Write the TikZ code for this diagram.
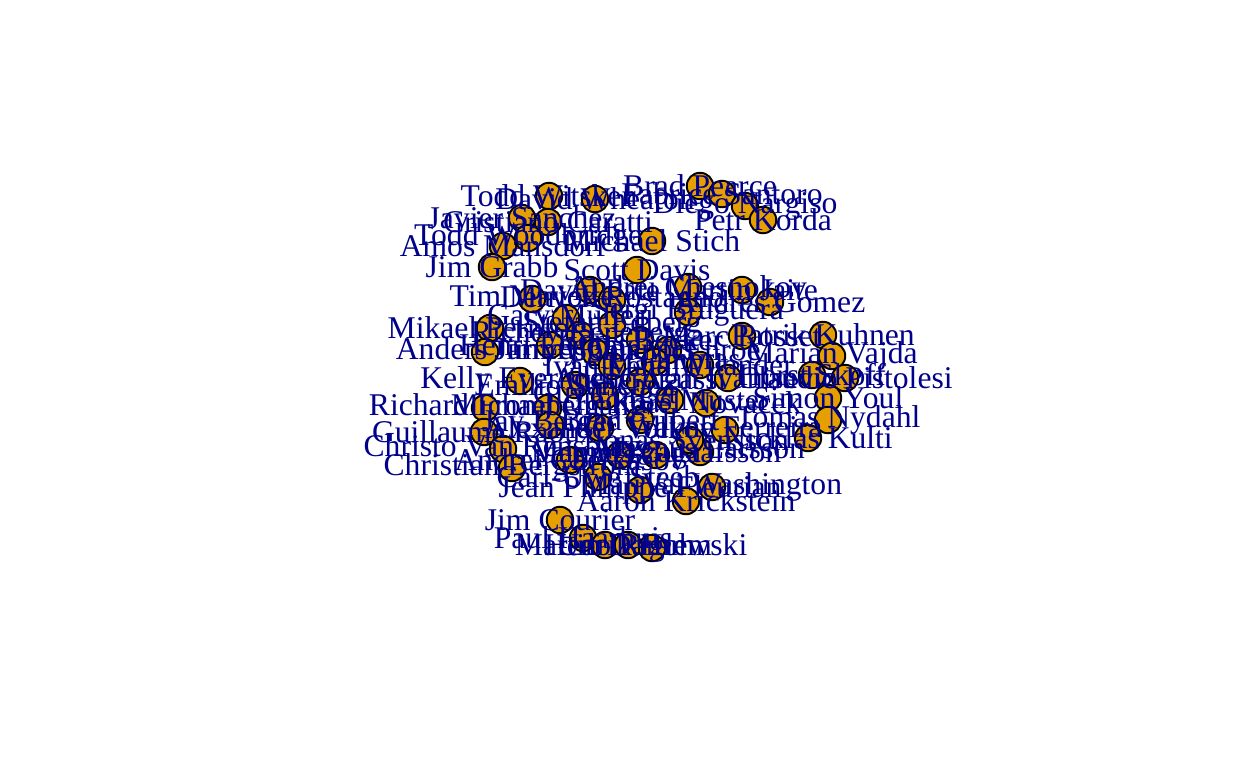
\documentclass[tikz,border=0pt]{standalone}
\usepackage{fontspec}
\setmainfont{Liberation Serif}
\usepackage{xcolor}
\usepackage{tikz}
\definecolor{vfill}{HTML}{E69F00}
\definecolor{lblblue}{HTML}{00008B}
\definecolor{edgegray}{HTML}{AFAFAF}
\pgfdeclarelayer{bg}
\pgfsetlayers{bg,main}

\begin{document}
\begin{tikzpicture}[
  x=0.02cm,y=-0.02cm,
  vtx/.style={circle,draw=black,line width=1.1pt,fill=vfill,minimum size=0.53cm,inner sep=0pt},
  lbl/.style={text=lblblue,font=\fontsize{18}{20}\selectfont,inner sep=0pt},
  edge/.style={draw=edgegray,line width=0.7pt}]
  \fill[white] (0,0) rectangle (1248,768);
  \useasboundingbox (0,0) rectangle (1248,768);

  % vertices
  \node[vtx] (pearce) at (700,186) {};
  \node[vtx] (santoro) at (722,194) {};
  \node[vtx] (nargiso) at (745,206) {};
  \node[vtx] (korda) at (763,220) {};
  \node[vtx] (stich) at (652,241) {};
  \node[vtx] (witsken) at (549,196) {};
  \node[vtx] (wheaton) at (595,199) {};
  \node[vtx] (javier) at (522,218) {};
  \node[vtx] (caratti) at (548,222) {};
  \node[vtx] (woodbridge) at (528,238) {};
  \node[vtx] (mansdorf) at (503,246) {};
  \node[vtx] (grabb) at (492,267) {};
  \node[vtx] (davis) at (637,270) {};
  \node[vtx] (mayotte) at (532,299) {};
  \node[vtx] (pate) at (590,290) {};
  \node[vtx] (rostagno) at (612,300) {};
  \node[vtx] (chesnokov) at (688,287) {};
  \node[vtx] (jaite) at (742,290) {};
  \node[vtx] (gomez) at (770,302) {};
  \node[vtx] (bruguera) at (688,312) {};
  \node[vtx] (muller) at (566,318) {};
  \node[vtx] (pernfors) at (490,328) {};
  \node[vtx] (reneberg) at (580,335) {};
  \node[vtx] (rosset) at (742,336) {};
  \node[vtx] (kuhnen) at (823,335) {};
  \node[vtx] (jarryd) at (485,352) {};
  \node[vtx] (vajda) at (832,356) {};
  \node[vtx] (skoff) at (812,375) {};
  \node[vtx] (pistolesi) at (845,378) {};
  \node[vtx] (evernden) at (520,381) {};
  \node[vtx] (youl) at (828,398) {};
  \node[vtx] (nydahl) at (828,420) {};
  \node[vtx] (kulti) at (808,438) {};
  \node[vtx] (fromberg) at (485,408) {};
  \node[vtx] (chang) at (548,408) {};
  \node[vtx] (raoux) at (484,432) {};
  \node[vtx] (vanrensburg) at (503,449) {};
  \node[vtx] (bergstrom) at (512,468) {};
  \node[vtx] (steeb) at (598,477) {};
  \node[vtx] (fleurian) at (640,490) {};
  \node[vtx] (washington) at (712,487) {};
  \node[vtx] (krickstein) at (686,501) {};
  \node[vtx] (courier) at (560,520) {};
  \node[vtx] (haarhuis) at (583,538) {};
  \node[vtx] (damm) at (605,545) {};
  \node[vtx] (holm) at (628,545) {};
  \node[vtx] (riglewski) at (652,548) {};
  \node[vtx] (gustafsson) at (656,455) {};
  \node[vtx] (larsson) at (700,452) {};
  \node[vtx] (edberg) at (612,325) {};
  \node[vtx] (leconte) at (550,345) {};
  \node[vtx] (becker) at (640,340) {};
  \node[vtx] (connors) at (595,352) {};
  \node[vtx] (mcenroe) at (668,350) {};
  \node[vtx] (lendl) at (612,366) {};
  \node[vtx] (sampras) at (655,362) {};
  \node[vtx] (wilander) at (700,365) {};
  \node[vtx] (ivanisevic) at (728,378) {};
  \node[vtx] (agassi) at (640,382) {};
  \node[vtx] (emsanchez) at (575,385) {};
  \node[vtx] (forget) at (605,396) {};
  \node[vtx] (novacek) at (706,403) {};
  \node[vtx] (muster) at (670,400) {};
  \node[vtx] (volkov) at (600,428) {};
  \node[vtx] (gilbert) at (640,420) {};
  \node[vtx] (ferreira) at (725,430) {};
  \node[vtx] (svensson) at (690,440) {};
  \node[vtx] (cherkasov) at (570,460) {};
  \node[vtx] (yzaga) at (620,455) {};
  \node[vtx] (berger) at (550,425) {};

  % edges
  \begin{pgfonlayer}{bg}
  \draw[edge] (pearce) -- (chesnokov);
  \draw[edge] (pearce) -- (davis);
  \draw[edge] (santoro) -- (forget);
  \draw[edge] (santoro) -- (chesnokov);
  \draw[edge] (nargiso) -- (bruguera);
  \draw[edge] (korda) -- (chesnokov);
  \draw[edge] (korda) -- (jaite);
  \draw[edge] (korda) -- (novacek);
  \draw[edge] (stich) -- (davis);
  \draw[edge] (stich) -- (becker);
  \draw[edge] (stich) -- (edberg);
  \draw[edge] (witsken) -- (pate);
  \draw[edge] (wheaton) -- (davis);
  \draw[edge] (wheaton) -- (edberg);
  \draw[edge] (javier) -- (emsanchez);
  \draw[edge] (caratti) -- (edberg);
  \draw[edge] (caratti) -- (pate);
  \draw[edge] (woodbridge) -- (muller);
  \draw[edge] (mansdorf) -- (mayotte);
  \draw[edge] (mansdorf) -- (edberg);
  \draw[edge] (grabb) -- (pate);
  \draw[edge] (grabb) -- (muller);
  \draw[edge] (davis) -- (edberg);
  \draw[edge] (davis) -- (becker);
  \draw[edge] (davis) -- (pate);
  \draw[edge] (mayotte) -- (connors);
  \draw[edge] (pate) -- (connors);
  \draw[edge] (rostagno) -- (becker);
  \draw[edge] (chesnokov) -- (mcenroe);
  \draw[edge] (jaite) -- (wilander);
  \draw[edge] (gomez) -- (ivanisevic);
  \draw[edge] (bruguera) -- (muster);
  \draw[edge] (bruguera) -- (sampras);
  \draw[edge] (muller) -- (leconte);
  \draw[edge] (pernfors) -- (leconte);
  \draw[edge] (reneberg) -- (lendl);
  \draw[edge] (rosset) -- (ivanisevic);
  \draw[edge] (kuhnen) -- (novacek);
  \draw[edge] (kuhnen) -- (rosset);
  \draw[edge] (jarryd) -- (emsanchez);
  \draw[edge] (vajda) -- (ivanisevic);
  \draw[edge] (skoff) -- (novacek);
  \draw[edge] (pistolesi) -- (ferreira);
  \draw[edge] (evernden) -- (emsanchez);
  \draw[edge] (youl) -- (novacek);
  \draw[edge] (nydahl) -- (ferreira);
  \draw[edge] (kulti) -- (svensson);
  \draw[edge] (fromberg) -- (chang);
  \draw[edge] (chang) -- (forget);
  \draw[edge] (raoux) -- (volkov);
  \draw[edge] (raoux) -- (berger);
  \draw[edge] (vanrensburg) -- (cherkasov);
  \draw[edge] (bergstrom) -- (cherkasov);
  \draw[edge] (steeb) -- (gilbert);
  \draw[edge] (fleurian) -- (yzaga);
  \draw[edge] (washington) -- (svensson);
  \draw[edge] (krickstein) -- (gilbert);
  \draw[edge] (courier) -- (steeb);
  \draw[edge] (courier) -- (fleurian);
  \draw[edge] (haarhuis) -- (fleurian);
  \draw[edge] (damm) -- (gilbert);
  \draw[edge] (holm) -- (yzaga);
  \draw[edge] (riglewski) -- (krickstein);
  \draw[edge] (gustafsson) -- (svensson);
  \draw[edge] (larsson) -- (ferreira);
  \draw[edge] (edberg) -- (becker);
  \draw[edge] (edberg) -- (lendl);
  \draw[edge] (becker) -- (sampras);
  \draw[edge] (lendl) -- (agassi);
  \draw[edge] (sampras) -- (agassi);
  \draw[edge] (agassi) -- (forget);
  \draw[edge] (muster) -- (novacek);
  \draw[edge] (wilander) -- (ivanisevic);
  \draw[edge] (mcenroe) -- (sampras);
  \draw[edge] (connors) -- (lendl);
  \draw[edge] (leconte) -- (connors);
  \draw[edge] (emsanchez) -- (forget);
  \draw[edge] (forget) -- (volkov);
  \draw[edge] (gilbert) -- (agassi);
  \draw[edge] (gilbert) -- (muster);
  \draw[edge] (ferreira) -- (novacek);
  \draw[edge] (svensson) -- (gilbert);
  \draw[edge] (cherkasov) -- (volkov);
  \draw[edge] (yzaga) -- (gilbert);
  \draw[edge] (berger) -- (volkov);
  \draw[edge] (chang) -- (emsanchez);
  \end{pgfonlayer}

  % labels
  \node[lbl] (pearce-t) at (pearce) {Brad Pearce};
  \node[lbl] (santoro-t) at (santoro) {Fabrice Santoro};
  \node[lbl] (nargiso-t) at (nargiso) {Diego Nargiso};
  \node[lbl] (korda-t) at (korda) {Petr Korda};
  \node[lbl] (stich-t) at (stich) {Michael Stich};
  \node[lbl] (witsken-t) at (witsken) {Todd Witsken};
  \node[lbl] (wheaton-t) at (wheaton) {David Wheaton};
  \node[lbl] (javier-t) at (javier) {Javier Sanchez};
  \node[lbl] (caratti-t) at (caratti) {Cristiano Caratti};
  \node[lbl] (woodbridge-t) at (woodbridge) {Todd Woodbridge};
  \node[lbl] (mansdorf-t) at (mansdorf) {Amos Mansdorf};
  \node[lbl] (grabb-t) at (grabb) {Jim Grabb};
  \node[lbl] (davis-t) at (davis) {Scott Davis};
  \node[lbl] (mayotte-t) at (mayotte) {Tim Mayotte};
  \node[lbl] (pate-t) at (pate) {David Pate};
  \node[lbl] (rostagno-t) at (rostagno) {Derrick Rostagno};
  \node[lbl] (chesnokov-t) at (chesnokov) {Andrei Chesnokov};
  \node[lbl] (jaite-t) at (jaite) {Martin Jaite};
  \node[lbl] (gomez-t) at (gomez) {Andres Gomez};
  \node[lbl] (bruguera-t) at (bruguera) {Sergi Bruguera};
  \node[lbl] (muller-t) at (muller) {Gary Muller};
  \node[lbl] (pernfors-t) at (pernfors) {Mikael Pernfors};
  \node[lbl] (reneberg-t) at (reneberg) {Richey Reneberg};
  \node[lbl] (rosset-t) at (rosset) {Marc Rosset};
  \node[lbl] (kuhnen-t) at (kuhnen) {Patrik Kuhnen};
  \node[lbl] (jarryd-t) at (jarryd) {Anders Jarryd};
  \node[lbl] (vajda-t) at (vajda) {Marian Vajda};
  \node[lbl] (skoff-t) at (skoff) {Horst Skoff};
  \node[lbl] (pistolesi-t) at (pistolesi) {Claudio Pistolesi};
  \node[lbl] (evernden-t) at (evernden) {Kelly Evernden};
  \node[lbl] (youl-t) at (youl) {Simon Youl};
  \node[lbl] (nydahl-t) at (nydahl) {Tomas Nydahl};
  \node[lbl] (kulti-t) at (kulti) {Nicklas Kulti};
  \node[lbl] (fromberg-t) at (fromberg) {Richard Fromberg};
  \node[lbl] (chang-t) at (chang) {Michael Chang};
  \node[lbl] (raoux-t) at (raoux) {Guillaume Raoux};
  \node[lbl] (vanrensburg-t) at (vanrensburg) {Christo Van Rensburg};
  \node[lbl] (bergstrom-t) at (bergstrom) {Christian Bergstrom};
  \node[lbl] (steeb-t) at (steeb) {Carl-Uwe Steeb};
  \node[lbl] (fleurian-t) at (fleurian) {Jean Philippe Fleurian};
  \node[lbl] (washington-t) at (washington) {MaliVai Washington};
  \node[lbl] (krickstein-t) at (krickstein) {Aaron Krickstein};
  \node[lbl] (courier-t) at (courier) {Jim Courier};
  \node[lbl] (haarhuis-t) at (haarhuis) {Paul Haarhuis};
  \node[lbl] (damm-t) at (damm) {Martin Damm};
  \node[lbl] (holm-t) at (holm) {Henrik Holm};
  \node[lbl] (riglewski-t) at (riglewski) {Udo Riglewski};
  \node[lbl] (gustafsson-t) at (gustafsson) {Magnus Gustafsson};
  \node[lbl] (larsson-t) at (larsson) {Magnus Larsson};
  \node[lbl] (edberg-t) at (edberg) {Stefan Edberg};
  \node[lbl] (leconte-t) at (leconte) {Henri Leconte};
  \node[lbl] (becker-t) at (becker) {Boris Becker};
  \node[lbl] (connors-t) at (connors) {Jimmy Connors};
  \node[lbl] (mcenroe-t) at (mcenroe) {John McEnroe};
  \node[lbl] (lendl-t) at (lendl) {Ivan Lendl};
  \node[lbl] (sampras-t) at (sampras) {Pete Sampras};
  \node[lbl] (wilander-t) at (wilander) {Mats Wilander};
  \node[lbl] (ivanisevic-t) at (ivanisevic) {Goran Ivanisevic};
  \node[lbl] (agassi-t) at (agassi) {Andre Agassi};
  \node[lbl] (emsanchez-t) at (emsanchez) {Emilio Sanchez};
  \node[lbl] (forget-t) at (forget) {Guy Forget};
  \node[lbl] (novacek-t) at (novacek) {Karel Novacek};
  \node[lbl] (muster-t) at (muster) {Thomas Muster};
  \node[lbl] (volkov-t) at (volkov) {Alexander Volkov};
  \node[lbl] (gilbert-t) at (gilbert) {Brad Gilbert};
  \node[lbl] (ferreira-t) at (ferreira) {Wayne Ferreira};
  \node[lbl] (svensson-t) at (svensson) {Jonas Svensson};
  \node[lbl] (cherkasov-t) at (cherkasov) {Andrei Cherkasov};
  \node[lbl] (yzaga-t) at (yzaga) {Jaime Yzaga};
  \node[lbl] (berger-t) at (berger) {Jay Berger};
\end{tikzpicture}
\end{document}
